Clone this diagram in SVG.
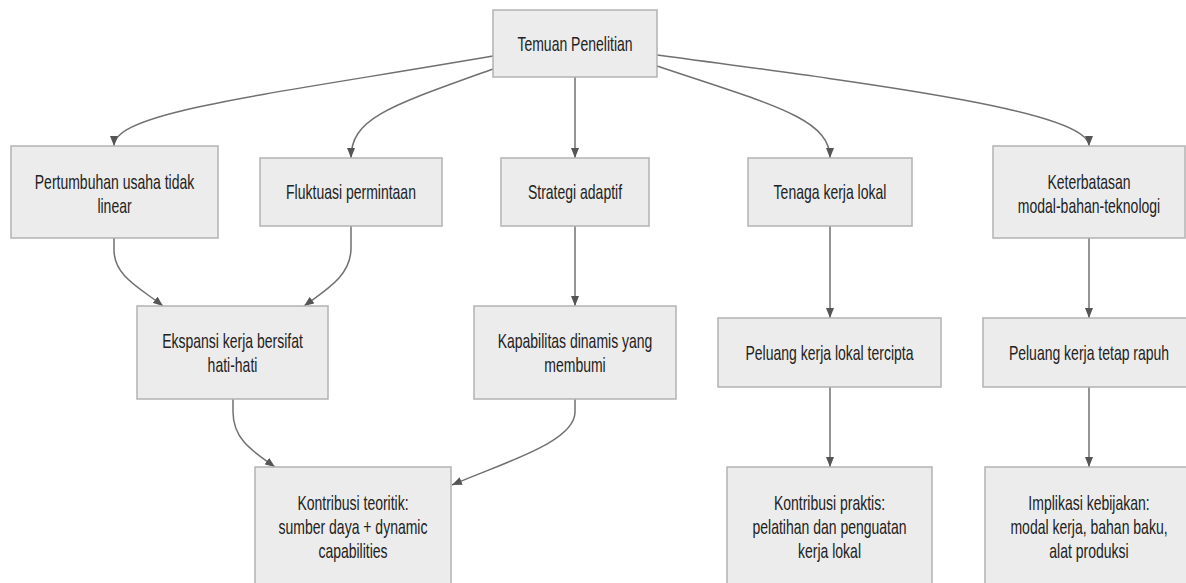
<svg xmlns="http://www.w3.org/2000/svg" width="1186" height="583" viewBox="0 0 1186 583">
<style>
.box{fill:#ececec;stroke:#b3b3b3;stroke-width:1.5}
.lbl{font-family:"Liberation Sans",Arial,sans-serif;font-size:20px;fill:#222;text-anchor:middle}
.edge{fill:none;stroke:#707070;stroke-width:1.5}
</style>
<defs>
<marker id="arr" viewBox="0 0 10 8" refX="10" refY="4" markerWidth="10" markerHeight="8" markerUnits="userSpaceOnUse" orient="auto">
<path d="M0,0 L10,4 L0,8 Z" fill="#555"/>
</marker>
</defs>
<rect width="1186" height="583" fill="#ffffff"/>
<g id="connectors">
<path class="edge" marker-end="url(#arr)" d="M493,56 C260,96 114,112 114,146"/>
<path class="edge" marker-end="url(#arr)" d="M493,69 C390,106 351,118 351,158"/>
<path class="edge" marker-end="url(#arr)" d="M575,77 L575,158"/>
<path class="edge" marker-end="url(#arr)" d="M657,66 C770,104 830,118 830,158"/>
<path class="edge" marker-end="url(#arr)" d="M657,55 C890,86 1089,112 1089,146"/>
<path class="edge" marker-end="url(#arr)" d="M114,238 L114,250 C114,276 140,288 163,306"/>
<path class="edge" marker-end="url(#arr)" d="M351,226 L351,248 C351,276 326,290 304,306"/>
<path class="edge" marker-end="url(#arr)" d="M575,226 L575,306"/>
<path class="edge" marker-end="url(#arr)" d="M830,226 L830,318"/>
<path class="edge" marker-end="url(#arr)" d="M1089,238 L1089,318"/>
<path class="edge" marker-end="url(#arr)" d="M233,399 L233,412 C233,440 254,452 275,467"/>
<path class="edge" marker-end="url(#arr)" d="M575,399 L575,412 C575,442 505,462 452,485"/>
<path class="edge" marker-end="url(#arr)" d="M830,387 L830,467"/>
<path class="edge" marker-end="url(#arr)" d="M1089,387 L1089,467"/>
</g>
<g id="temuan">
<rect class="box" x="493" y="10" width="164" height="67"/>
<text class="lbl" transform="translate(575 0) scale(0.7 1)" x="0" y="51">Temuan Penelitian</text>
</g>
<g id="pertumbuhan">
<rect class="box" x="11" y="146" width="207" height="92"/>
<text class="lbl" transform="translate(114.5 0) scale(0.7 1)"><tspan x="0" y="189">Pertumbuhan usaha tidak</tspan><tspan x="0" y="213">linear</tspan></text>
</g>
<g id="fluktuasi">
<rect class="box" x="260" y="158" width="182" height="68"/>
<text class="lbl" transform="translate(351 0) scale(0.7 1)" x="0" y="199">Fluktuasi permintaan</text>
</g>
<g id="strategi">
<rect class="box" x="501" y="158" width="148" height="68"/>
<text class="lbl" transform="translate(575 0) scale(0.7 1)" x="0" y="199">Strategi adaptif</text>
</g>
<g id="tenaga">
<rect class="box" x="748" y="158" width="164" height="68"/>
<text class="lbl" transform="translate(830 0) scale(0.7 1)" x="0" y="199">Tenaga kerja lokal</text>
</g>
<g id="keterbatasan">
<rect class="box" x="993" y="146" width="192" height="92"/>
<text class="lbl" transform="translate(1089 0) scale(0.7 1)"><tspan x="0" y="189">Keterbatasan</tspan><tspan x="0" y="213">modal-bahan-teknologi</tspan></text>
</g>
<g id="ekspansi">
<rect class="box" x="137" y="306" width="191" height="93"/>
<text class="lbl" transform="translate(232.5 0) scale(0.7 1)"><tspan x="0" y="348">Ekspansi kerja bersifat</tspan><tspan x="0" y="372">hati-hati</tspan></text>
</g>
<g id="kapabilitas">
<rect class="box" x="474" y="306" width="202" height="93"/>
<text class="lbl" transform="translate(575 0) scale(0.7 1)"><tspan x="0" y="348">Kapabilitas dinamis yang</tspan><tspan x="0" y="372">membumi</tspan></text>
</g>
<g id="peluang-lokal">
<rect class="box" x="718" y="318" width="223" height="69"/>
<text class="lbl" transform="translate(829.5 0) scale(0.7 1)" x="0" y="360">Peluang kerja lokal tercipta</text>
</g>
<g id="peluang-rapuh">
<rect class="box" x="983" y="318" width="212" height="69"/>
<text class="lbl" transform="translate(1089 0) scale(0.7 1)" x="0" y="360">Peluang kerja tetap rapuh</text>
</g>
<g id="kontribusi-teoritik">
<rect class="box" x="255" y="467" width="196" height="121"/>
<text class="lbl" transform="translate(353 0) scale(0.7 1)"><tspan x="0" y="510">Kontribusi teoritik:</tspan><tspan x="0" y="534">sumber daya + dynamic</tspan><tspan x="0" y="558">capabilities</tspan></text>
</g>
<g id="kontribusi-praktis">
<rect class="box" x="727" y="467" width="205" height="121"/>
<text class="lbl" transform="translate(829.5 0) scale(0.7 1)"><tspan x="0" y="510">Kontribusi praktis:</tspan><tspan x="0" y="534">pelatihan dan penguatan</tspan><tspan x="0" y="558">kerja lokal</tspan></text>
</g>
<g id="implikasi">
<rect class="box" x="985" y="467" width="208" height="121"/>
<text class="lbl" transform="translate(1089 0) scale(0.7 1)"><tspan x="0" y="510">Implikasi kebijakan:</tspan><tspan x="0" y="534">modal kerja, bahan baku,</tspan><tspan x="0" y="558">alat produksi</tspan></text>
</g>
</svg>
